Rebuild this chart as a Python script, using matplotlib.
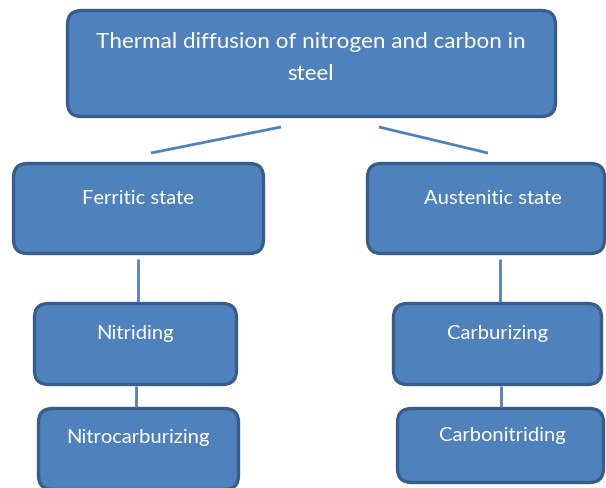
import matplotlib.pyplot as plt
from matplotlib.patches import FancyBboxPatch

# node labels of the tree
labels = ['Thermal diffusion of nitrogen and carbon in\nsteel',
          'Ferritic state', 'Austenitic state',
          'Nitriding', 'Carburizing',
          'Nitrocarburizing', 'Carbonitriding']

# box geometry in pixels: x0, y0, x1, y1
boxes = [(66, 10, 557, 119),
         (12, 163, 265, 256), (366, 163, 606, 256),
         (33, 303, 238, 387), (392, 303, 603, 387),
         (37, 408, 240, 492), (396, 408, 605, 485)]
text_pos = [(311, 58),
            (138, 198), (493, 198),
            (135, 333), (498, 333),
            (138, 438), (502, 436)]

# connector lines
links = [((281, 128), (151, 154)),
         ((379, 128), (488, 154)),
         ((138, 260), (138, 303)),
         ((500, 260), (500, 303)),
         ((136, 387), (136, 408)),
         ((501, 387), (501, 408))]

fill = '#4f81bd'
edge = '#385d8a'

fig = plt.figure(figsize=(6.06, 4.89), dpi=100)
ax = fig.add_axes([0, 0, 1, 1])
ax.set_xlim(0, 606)
ax.set_ylim(489, 0)
ax.axis('off')

for (p, q) in links:
    ax.plot([p[0], q[0]], [p[1], q[1]], color=fill, lw=2, solid_capstyle='butt')

for i, ((x0, y0, x1, y1), lab, (tx, ty)) in enumerate(zip(boxes, labels, text_pos)):
    box = FancyBboxPatch((x0 + 1.5, y0 + 1.5), x1 - x0 - 3, y1 - y0 - 3,
                         boxstyle='round,pad=0,rounding_size=14',
                         fc=fill, ec=edge, lw=2.4)
    ax.add_patch(box)
    fs = 16.2 if i == 0 else 14.5
    ax.text(tx, ty, lab, ha='center', va='center', color='white',
            fontsize=fs, family='Lato', linespacing=1.7)

fig.savefig('out.png', dpi=100)
